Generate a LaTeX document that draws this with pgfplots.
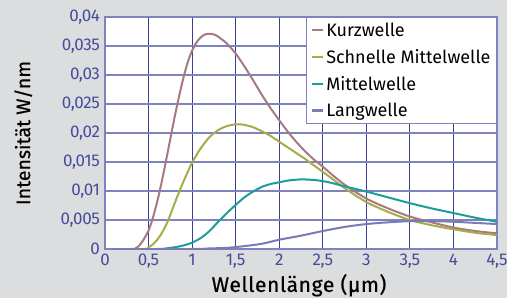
\documentclass[border=0pt]{standalone}
\usepackage{fontspec}
\setmainfont{Fira Sans}
\usepackage{pgfplots}
\pgfplotsset{compat=1.18}
\definecolor{bg}{HTML}{DCDDDF}
\definecolor{gridv}{HTML}{3B3F98}
\definecolor{gridh}{HTML}{7E82BE}
\definecolor{tickc}{HTML}{464B9C}
\definecolor{kurz}{HTML}{A77A80}
\definecolor{schnell}{HTML}{A8AC48}
\definecolor{mittel}{HTML}{1C9D9A}
\definecolor{lang}{HTML}{7A7AB5}
\begin{document}
\begin{tikzpicture}[x=1pt,y=1pt]
\fill[bg] (0,0) rectangle (507,298);
\useasboundingbox (0,0) rectangle (507,298);
\begin{axis}[
  at={(105pt,49pt)}, anchor=south west,
  width=392pt, height=232pt, scale only axis,
  xmin=0, xmax=4.5, ymin=0, ymax=0.04,
  xtick={0,0.5,1,1.5,2,2.5,3,3.5,4,4.5},
  ytick={0,0.005,0.01,0.015,0.02,0.025,0.03,0.035,0.04},
  scaled y ticks=false,
  /pgf/number format/.cd, use comma, fixed, precision=3, assume math mode=true,
  /pgfplots/.cd,
  major tick length=0pt,
  axis background/.style={fill=white},
  grid=major,
  x grid style={gridv, line width=0.9pt},
  y grid style={gridh, line width=1.2pt},
  axis line style={gridh, line width=1.3pt},
  ticklabel style={font=\fontsize{17}{20}\selectfont\addfontfeatures{LetterSpace=-2}, text=tickc},
  xticklabel style={yshift=-1.5pt},
  yticklabel style={xshift=-1.5pt},
  xlabel={Wellenlänge (µm)},
  ylabel={Intensität W/nm},
  label style={text=black},
  xlabel style={font=\fontsize{21}{24}\selectfont\addfontfeatures{FakeBold=0.6,LetterSpace=3}, at={(axis description cs:0.495,-0.185)}, anchor=base},
  ylabel style={font=\fontsize{19.5}{23}\selectfont\addfontfeatures{FakeBold=0.6}, at={(axis description cs:-0.191,0.5)}, anchor=base, rotate=0},
  legend style={at={(1,1)}, anchor=north east, draw=gridh, line width=1pt, fill=white,
    font=\fontsize{18}{21}\selectfont, inner xsep=4pt, inner ysep=3pt, row sep=7.5pt},
  legend cell align=left,
  legend image code/.code={\draw[#1, line width=2.4pt] (0pt,0pt) -- (11pt,0pt);},
  every axis plot/.append style={line width=2pt, smooth, tension=0.5},
]
\addplot[kurz] coordinates {
(0.1,0) (0.3,0) (0.35,0.0001) (0.4,0.0007) (0.45,0.0018) (0.5,0.0032) (0.55,0.0054)
(0.6,0.0082) (0.65,0.0115) (0.7,0.0152) (0.75,0.0190) (0.8,0.0228) (0.85,0.0263)
(0.9,0.0295) (0.95,0.0322) (1.0,0.0342) (1.05,0.0356) (1.1,0.0365) (1.15,0.0370)
(1.2,0.0371) (1.25,0.0370) (1.3,0.0366) (1.4,0.0354) (1.5,0.0337) (1.6,0.0315)
(1.7,0.0291) (1.8,0.0266) (1.9,0.0243) (2.0,0.0222) (2.1,0.0202) (2.2,0.0184)
(2.3,0.0168) (2.4,0.0154) (2.5,0.0142) (2.6,0.0129) (2.75,0.0111) (3.0,0.0087)
(3.25,0.0070) (3.5,0.0056) (3.75,0.0046) (4.0,0.0037) (4.25,0.0031) (4.5,0.0027)};
\addlegendentry{Kurzwelle}
\addplot[schnell] coordinates {
(0.1,0) (0.45,0) (0.5,0.0003) (0.55,0.0008) (0.6,0.0016) (0.65,0.0027) (0.7,0.0041)
(0.75,0.0059) (0.8,0.0079) (0.85,0.0098) (0.9,0.0116) (0.95,0.0133) (1.0,0.0149)
(1.05,0.0162) (1.1,0.0174) (1.2,0.0193) (1.3,0.0205) (1.4,0.0212) (1.5,0.0215)
(1.55,0.0215) (1.6,0.0214) (1.7,0.0210) (1.8,0.0203) (1.9,0.0195) (2.0,0.0185)
(2.1,0.0175) (2.2,0.0165) (2.3,0.0155) (2.4,0.0144) (2.5,0.0133) (2.6,0.0122)
(2.75,0.0105) (3.0,0.0081) (3.25,0.0064) (3.5,0.0050) (3.75,0.0041) (4.0,0.0034)
(4.25,0.0028) (4.5,0.0024)};
\addlegendentry{Schnelle Mittelwelle}
\addplot[mittel] coordinates {
(0.1,0) (0.6,0) (0.7,0.0001) (0.8,0.0003) (0.9,0.0006) (1.0,0.0011) (1.1,0.0019)
(1.2,0.0031) (1.3,0.0047) (1.4,0.0062) (1.5,0.0076) (1.6,0.0089) (1.7,0.0099)
(1.8,0.0107) (1.9,0.0112) (2.0,0.0115) (2.1,0.0118) (2.25,0.0120) (2.4,0.0119)
(2.5,0.0117) (2.6,0.0114) (2.75,0.0108) (3.0,0.0099) (3.25,0.0089) (3.5,0.0079)
(3.75,0.0070) (4.0,0.0062) (4.25,0.0054) (4.5,0.0047)};
\addlegendentry{Mittelwelle}
\addplot[lang] coordinates {
(0.1,0) (1.0,0) (1.2,0.0001) (1.4,0.0002) (1.6,0.0005) (1.8,0.0009) (2.0,0.0016)
(2.25,0.0023) (2.5,0.0031) (2.75,0.0038) (3.0,0.0043) (3.25,0.0046) (3.5,0.0048)
(3.75,0.0048) (4.0,0.0047) (4.25,0.0045) (4.5,0.0043)};
\addlegendentry{Langwelle}
\end{axis}
\end{tikzpicture}
\end{document}
